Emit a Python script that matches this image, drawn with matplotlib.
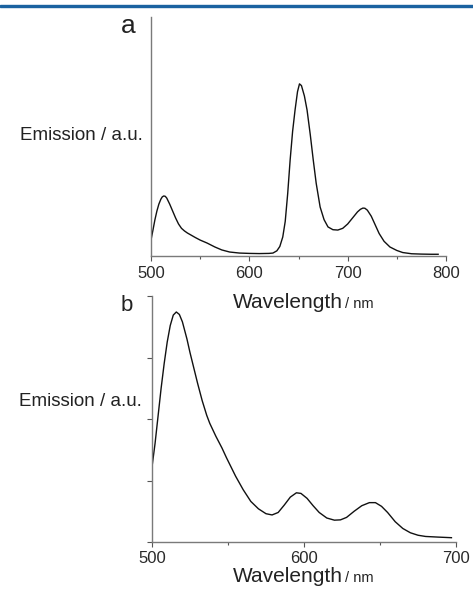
import matplotlib
matplotlib.use("Agg")
import matplotlib.pyplot as plt
from matplotlib.patches import Rectangle
from matplotlib.ticker import MultipleLocator, NullLocator

plt.rcParams['font.family'] = ['Liberation Sans', 'DejaVu Sans']

# ---- data: panel a ----
wl_a = [500, 502, 504, 506, 508, 510, 511.5, 513, 514.5, 516, 519, 522, 525, 528, 531, 534,
        537, 541, 545, 550, 557, 565, 572, 580, 590, 600, 610, 620, 624, 628, 631, 634,
        636.5, 639, 641.5, 644, 646.5, 649, 651, 653, 656, 658.7, 662, 665, 668, 672, 676,
        680, 685, 690, 695, 700, 705, 710, 713, 715.5, 717.5, 720, 724, 728, 732, 737, 743,
        750, 756, 765, 775, 785, 792]
em_a = [0.092, 0.15, 0.21, 0.26, 0.30, 0.328, 0.342, 0.347, 0.345, 0.335, 0.30, 0.26, 0.22,
        0.185, 0.16, 0.145, 0.133, 0.12, 0.107, 0.092, 0.075, 0.052, 0.035, 0.023, 0.017,
        0.015, 0.014, 0.015, 0.017, 0.03, 0.055, 0.11, 0.2, 0.36, 0.555, 0.72, 0.844, 0.95,
        0.995, 0.985, 0.925, 0.844, 0.70, 0.555, 0.42, 0.283, 0.21, 0.168, 0.152, 0.15,
        0.16, 0.185, 0.22, 0.255, 0.27, 0.277, 0.276, 0.265, 0.23, 0.18, 0.13, 0.085, 0.052,
        0.032, 0.02, 0.013, 0.011, 0.01, 0.01]

# ---- data: panel b ----
wl_b = [500, 502, 504, 506, 508, 510, 512, 514, 516, 518, 520, 523, 525, 528, 530, 533,
        536, 538, 542, 546, 549, 552, 555, 560, 565, 570, 575, 579, 583, 587, 591, 595,
        598, 602, 606, 610, 615, 620, 624, 628, 633, 638, 643, 647, 651, 655, 660, 665,
        670, 675, 680, 688, 697]
em_b = [1.22, 1.6, 2.05, 2.5, 2.9, 3.25, 3.52, 3.69, 3.74, 3.7, 3.58, 3.3, 3.08, 2.78, 2.58,
        2.3, 2.06, 1.93, 1.72, 1.53, 1.37, 1.22, 1.07, 0.85, 0.66, 0.54, 0.46, 0.44, 0.48,
        0.6, 0.73, 0.8, 0.79, 0.71, 0.59, 0.48, 0.39, 0.355, 0.36, 0.4, 0.5, 0.59, 0.64,
        0.64, 0.58, 0.48, 0.33, 0.22, 0.15, 0.11, 0.09, 0.08, 0.07]

W, H = 473, 592
fig = plt.figure(figsize=(W / 100, H / 100), dpi=100)

def fx(x):
    return x / W

def fy(y):
    return 1 - y / H

# top blue rule
fig.patches.append(Rectangle((0, fy(7.2)), 1, 2.6 / H, transform=fig.transFigure,
                             color='#1a62a0', zorder=5))

axis_col = '#7a7a7a'

# ---- panel a ----
ax_a = fig.add_axes([fx(151), fy(256), fx(446) - fx(151), fy(17) - fy(256)])
ax_a.plot(wl_a, em_a, color='#111111', lw=1.0)
ax_a.set_xlim(500, 800)
ax_a.set_ylim(0, 239 / 173)
ax_a.spines['top'].set_visible(False)
ax_a.spines['right'].set_visible(False)
for s in ('left', 'bottom'):
    ax_a.spines[s].set_color(axis_col)
    ax_a.spines[s].set_linewidth(1.0)
ax_a.xaxis.set_major_locator(MultipleLocator(100))
ax_a.xaxis.set_minor_locator(MultipleLocator(50))
ax_a.yaxis.set_major_locator(NullLocator())
ax_a.tick_params(axis='x', which='major', length=3.5, width=0.8, color='#555555',
                 labelsize=12, pad=3.5, labelcolor='#2a2a2a')
ax_a.tick_params(axis='x', which='minor', length=2.5, width=0.8, color='#555555')

# ---- panel b ----
ax_b = fig.add_axes([fx(152), fy(542), fx(456) - fx(152), fy(296) - fy(542)])
ax_b.plot(wl_b, em_b, color='#111111', lw=1.0)
ax_b.set_xlim(500, 700)
ax_b.set_ylim(0, 4)
ax_b.spines['top'].set_visible(False)
ax_b.spines['right'].set_visible(False)
for s in ('left', 'bottom'):
    ax_b.spines[s].set_color(axis_col)
    ax_b.spines[s].set_linewidth(1.0)
ax_b.xaxis.set_major_locator(MultipleLocator(100))
ax_b.xaxis.set_minor_locator(MultipleLocator(50))
ax_b.yaxis.set_major_locator(MultipleLocator(1))
ax_b.tick_params(axis='y', which='major', length=3.5, width=0.8, color='#555555',
                 labelleft=False)
ax_b.tick_params(axis='x', which='major', length=3.5, width=0.8, color='#555555',
                 labelsize=12, pad=3, labelcolor='#2a2a2a')
ax_b.tick_params(axis='x', which='minor', length=2.5, width=0.8, color='#555555')

# ---- text labels ----
txt = '#222222'
fig.text(fx(121), fy(33), 'a', fontsize=19, color=txt, va='baseline', ha='left')
fig.text(fx(121), fy(311), 'b', fontsize=16, color=txt, va='baseline', ha='left')

fig.text(fx(143), fy(140), 'Emission / a.u.', fontsize=13.5, color=txt,
         va='baseline', ha='right')
fig.text(fx(142), fy(406), 'Emission / a.u.', fontsize=13.5, color=txt,
         va='baseline', ha='right')

fig.text(fx(343), fy(308), 'Wavelength', fontsize=15, color=txt, va='baseline', ha='right')
fig.text(fx(345), fy(308), '/ nm', fontsize=10.5, color=txt, va='baseline', ha='left')
fig.text(fx(343), fy(582), 'Wavelength', fontsize=15, color=txt, va='baseline', ha='right')
fig.text(fx(345), fy(582), '/ nm', fontsize=10.5, color=txt, va='baseline', ha='left')

fig.savefig('out.png', dpi=100)
